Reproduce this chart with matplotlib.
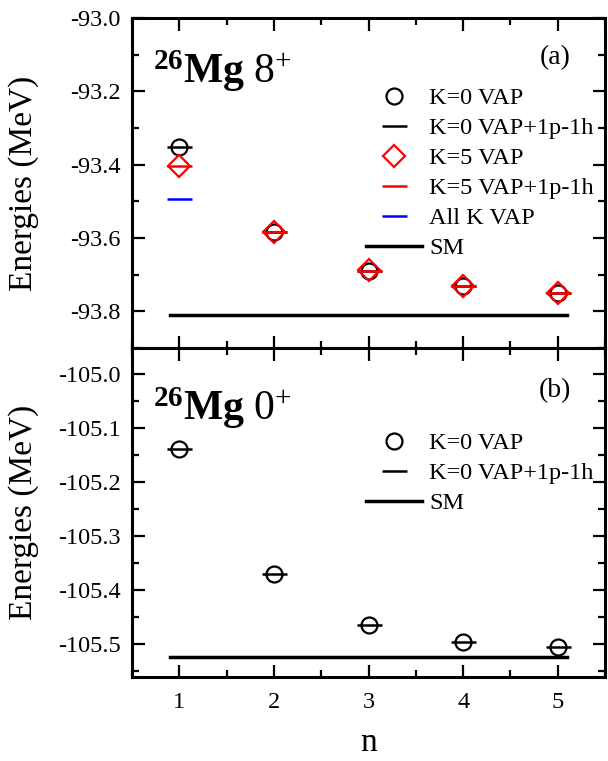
import matplotlib
matplotlib.use("Agg")
import matplotlib.pyplot as plt
from matplotlib.ticker import MultipleLocator, FormatStrFormatter

plt.rcParams['font.family'] = ['Liberation Serif', 'DejaVu Serif']
plt.rcParams['mathtext.fontset'] = 'custom'
plt.rcParams['mathtext.rm'] = 'Liberation Serif'
plt.rcParams['mathtext.bf'] = 'Liberation Serif:bold'
plt.rcParams['mathtext.it'] = 'Liberation Serif:italic'

# ---------------- data ----------------
n = [1, 2, 3, 4, 5]
# panel (a) 26Mg 8+
a_k0_vap = [-93.352, -93.584, -93.690, -93.730, -93.750]
a_k0_1p1h = [-93.352, -93.584, -93.689, -93.731, -93.751]
a_k5_n = [1, 2, 3, 4, 5]
a_k5_vap = [-93.405, -93.584, -93.688, -93.730, -93.749]
a_k5_1p1h = [-93.405, -93.584, -93.689, -93.731, -93.750]
a_allk_n = [1]
a_allk = [-93.495]
sm_n = [0.9, 5.1]
a_sm = [-93.81, -93.81]
# panel (b) 26Mg 0+
b_k0_vap = [-105.139, -105.371, -105.465, -105.497, -105.505]
b_k0_1p1h = [-105.139, -105.371, -105.465, -105.497, -105.505]
b_sm = [-105.524, -105.524]

xticks = [1, 2, 3, 4, 5]

# ---------------- figure ----------------
fig = plt.figure(figsize=(6.08, 7.61), dpi=100)
L, R = 132 / 608, 605 / 608
axa = fig.add_axes([L, 1 - 348 / 761, R - L, (348 - 18) / 761])
axb = fig.add_axes([L, 1 - 677 / 761, R - L, (677 - 348) / 761])

circ = dict(marker='o', ms=11.5, mfc='none', mec='black', mew=1.6, ls='none')
dash_k = dict(marker='_', ms=18, mec='black', mew=1.8, ls='none')
dash_r = dict(marker='_', ms=18, mec='red', mew=1.8, ls='none')
dash_b = dict(marker='_', ms=18, mec='blue', mew=1.8, ls='none')
diam = dict(marker='D', ms=11, mfc='none', mec='red', mew=1.6, ls='none')

# panel (a)
axa.plot(n, a_k0_vap, label='K=0 VAP', **circ)
axa.plot(n, a_k0_1p1h, label='K=0 VAP+1p-1h', **dash_k)
axa.plot(a_k5_n, a_k5_vap, label='K=5 VAP', **diam)
axa.plot(a_k5_n, a_k5_1p1h, label='K=5 VAP+1p-1h', **dash_r)
axa.plot(a_allk_n, a_allk, label='All K VAP', **dash_b)
axa.plot(sm_n, a_sm, color='black', lw=2.5, label='SM')

# panel (b)
axb.plot(n, b_k0_vap, label='K=0 VAP', **circ)
axb.plot(n, b_k0_1p1h, label='K=0 VAP+1p-1h', **dash_k)
axb.plot(sm_n, b_sm, color='black', lw=2.5, label='SM')

axa.set_ylim(-93.90, -93.0)
axb.set_ylim(-105.5615, -104.952)
for ax in (axa, axb):
    ax.set_xlim(0.5, 5.5)
    ax.xaxis.set_major_locator(MultipleLocator(1))
    ax.xaxis.set_minor_locator(MultipleLocator(0.5))
    ax.tick_params(which='both', direction='in', top=True, right=True,
                   labelsize=17.5, width=1.6)
    ax.tick_params(which='major', length=9)
    ax.tick_params(which='minor', length=5)
    ax.tick_params(axis='y', which='major', pad=8)
    ax.tick_params(axis='x', which='major', pad=11)
    for s in ax.spines.values():
        s.set_linewidth(2.2)
    ax.set_ylabel('Energies (MeV)', fontsize=24)

axa.yaxis.set_major_locator(MultipleLocator(0.2))
axa.yaxis.set_minor_locator(MultipleLocator(0.1))
axa.yaxis.set_major_formatter(FormatStrFormatter('%.1f'))
axa.tick_params(axis='x', labelbottom=False)
axb.yaxis.set_major_locator(MultipleLocator(0.1))
axb.yaxis.set_minor_locator(MultipleLocator(0.05))
axb.yaxis.set_major_formatter(FormatStrFormatter('%.1f'))
axb.set_xticks(xticks)
axb.set_xlabel('n', fontsize=24, labelpad=10)

for ax in (axa, axb):
    ax.yaxis.set_label_coords(-0.197, 0.5)

axa.text(0.045, 0.803, r'${}^{\mathbf{26}}\mathbf{Mg}\ \mathrm{8}^{+}$',
         transform=axa.transAxes, fontsize=30, ha='left', va='baseline')
axb.text(0.045, 0.781, r'${}^{\mathbf{26}}\mathbf{Mg}\ \mathrm{0}^{+}$',
         transform=axb.transAxes, fontsize=30, ha='left', va='baseline')
axa.text(0.894, 0.879, '(a)', transform=axa.transAxes, fontsize=20,
         ha='center', va='center')
axb.text(0.894, 0.872, '(b)', transform=axb.transAxes, fontsize=20,
         ha='center', va='center')

leg_kw = dict(frameon=False, fontsize=17.5, handlelength=2.3, handletextpad=0.3,
              labelspacing=0.33, borderpad=0, borderaxespad=0, loc='upper left')
axa.legend(bbox_to_anchor=((366 - 132) / 473, (348 - 87) / 330), **leg_kw)
axb.legend(bbox_to_anchor=((366 - 132) / 473, (677 - 432) / 329), **leg_kw)

fig.savefig('out.png', dpi=100)
